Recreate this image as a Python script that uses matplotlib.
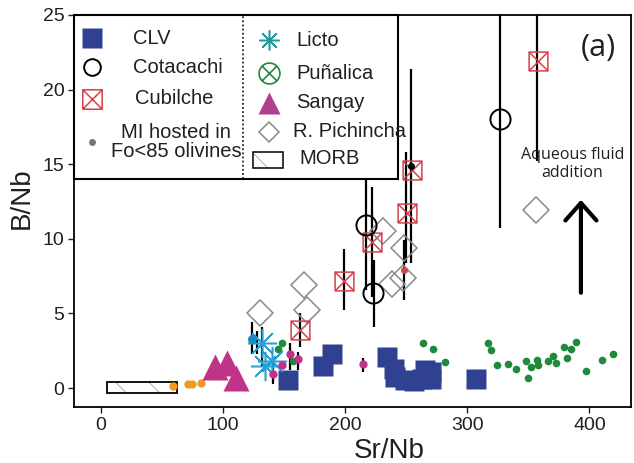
import numpy as np
import matplotlib
matplotlib.use("Agg")
import matplotlib.pyplot as plt
from matplotlib.path import Path
from matplotlib.patches import Rectangle

plt.rcParams['font.family'] = ['Liberation Sans', 'DejaVu Sans']
plt.rcParams['hatch.linewidth'] = 0.6

# ---- data ----
clv_x = [153, 182, 189, 234, 240, 241, 249, 256, 263, 265, 270, 270, 307]
clv_y = [0.55, 1.5, 2.3, 2.1, 1.3, 0.75, 0.55, 0.5, 0.6, 1.2, 1.1, 0.6, 0.6]

cota_x = [217, 223, 327]
cota_y = [10.9, 6.4, 18.0]

cubi_x = [163, 199, 222, 251, 255, 358]
cubi_y = [3.9, 7.2, 9.8, 11.7, 14.6, 21.9]

pich_x = [130, 166, 169, 231, 238, 247, 248, 356]
pich_y = [5.0, 6.9, 5.2, 10.5, 7.0, 7.4, 9.4, 11.95]

licto_x = [132, 134, 140]
licto_y = [3.0, 1.5, 1.8]

sangay_x = [93.5, 103, 111]
sangay_y = [1.4, 1.7, 0.67]

orange_x = [59, 71, 75, 82, 110]
orange_y = [0.15, 0.3, 0.3, 0.35, 0.5]

teal_x = [124]
teal_y = [3.3]

green_x = [148, 145, 157, 264, 272, 282, 317, 319, 324, 333, 340, 348, 350, 352,
           357, 358, 366, 370, 373, 379, 382, 385, 389, 397, 410, 419]
green_y = [3.0, 2.6, 1.8, 3.0, 2.6, 1.74, 3.0, 2.55, 1.55, 1.6, 1.27, 1.8, 0.67, 1.4,
           1.88, 1.55, 1.8, 2.15, 1.68, 2.75, 2.0, 2.6, 3.1, 1.14, 1.88, 2.26]

mag_x = [155, 161, 148, 141, 215]
mag_y = [2.3, 1.95, 1.55, 0.95, 1.6]

red_x, red_y = [248], [7.9]
black_x, black_y = [254], [14.9]

# vertical error bars: x, low, high
err_x = [327, 357, 217, 222, 224, 199, 250, 254, 248, 163, 124, 128, 132, 141, 155, 161, 215]
err_lo = [10.7, 15.2, 6.6, 6.1, 4.1, 5.2, 8.4, 8.4, 5.9, 2.75, 2.3, 2.3, 1.4, 0.3, 1.2, 1.2, 1.1]
err_hi = [26.0, 26.0, 15.1, 13.5, 8.6, 9.3, 15.8, 21.4, 9.9, 5.0, 4.4, 3.8, 4.1, 2.1, 3.0, 2.4, 2.0]

morb_x = (5, 62)
morb_y = (-0.3, 0.4)

# ---- colours ----
c_clv = '#2f4190'
c_cubi = '#d2434a'
c_licto = '#2c9fd2'
c_pun = '#1f8a3c'
c_sang = '#bf3389'
c_pich = '#8a8a8a'
c_orange = '#f29a1f'
c_teal = '#1a8cc4'
c_text = '#231f20'

# custom markers
M, L = Path.MOVETO, Path.LINETO
box_x = Path([(-1, -1), (1, -1), (1, 1), (-1, 1), (-1, -1), (-1, -1), (1, 1), (-1, 1), (1, -1)],
             [M, L, L, L, L, M, L, M, L])
d = 0.7071
circ_x = Path.make_compound_path(Path.unit_circle(),
                                 Path([(-d, -d), (d, d)], [M, L]),
                                 Path([(-d, d), (d, -d)], [M, L]))
aster = (8, 2, 0)


def hatched_box(ax, xy, w, h, lw, **kw):
    # grey sparse hatch underneath, black outline on top
    ax.add_patch(Rectangle(xy, w, h, facecolor='white', edgecolor='#a0a0a0', lw=0,
                           hatch='\\', **kw))
    kw['zorder'] = kw.get('zorder', 2) + 0.1
    ax.add_patch(Rectangle(xy, w, h, facecolor='none', edgecolor='black', lw=lw, **kw))


fig = plt.figure(figsize=(6.34, 4.63), dpi=100)
ax = fig.add_axes([74 / 634, 1 - 407 / 463, 557 / 634, 392 / 463])

ax.set_xlim(-22, 434)
ax.set_ylim(-1.27, 25)

ax.vlines(err_x, err_lo, err_hi, colors='black', lw=1.6, zorder=2)

hatched_box(ax, (morb_x[0], morb_y[0]), morb_x[1] - morb_x[0], morb_y[1] - morb_y[0],
            1.3, zorder=2)

ax.plot(green_x, green_y, 'o', ms=5.5, color=c_pun, mec='none', zorder=3)
ax.plot(orange_x, orange_y, 'o', ms=6, color=c_orange, mec='none', zorder=3)
ax.plot(sangay_x, sangay_y, '^', ms=19, color=c_sang, mec='none', zorder=3)
ax.plot(clv_x, clv_y, 's', ms=14, color=c_clv, mec='none', zorder=3)
ax.plot(pich_x, pich_y, 'D', ms=13.5, mfc='none', mec=c_pich, mew=1.1, zorder=4)
ax.plot(cubi_x, cubi_y, ls='none', marker=box_x, ms=13.5, mfc='none', mec=c_cubi, mew=1.1, zorder=4)
ax.plot(cota_x, cota_y, 'o', ms=14.5, mfc='none', mec='black', mew=1.4, zorder=4)
ax.plot(licto_x, licto_y, ls='none', marker=aster, ms=21, mec=c_licto, mew=1.1, zorder=4)
ax.plot(teal_x, teal_y, 'o', ms=6.5, color=c_teal, mec='none', zorder=5)
ax.plot(mag_x, mag_y, 'o', ms=6, color=c_sang, mec='none', zorder=5)
ax.plot(red_x, red_y, 'o', ms=5, color=c_cubi, mec='none', zorder=5)
ax.plot(black_x, black_y, 'o', ms=5, color='black', mec='none', zorder=5)

# arrow + annotations
ax.annotate('', xy=(393, 12.8), xytext=(393, 6.2),
            arrowprops=dict(arrowstyle='->, head_length=0.9, head_width=0.8',
                            mutation_scale=14, lw=3, color='black'))
ax.text(386, 15.0, 'Aqueous fluid\naddition', ha='center', va='center', fontsize=11.5,
        family=['Open Sans', 'DejaVu Sans'], color=c_text, linespacing=1.2)
ax.text(407, 22.8, '(a)', ha='center', va='center', fontsize=22,
        family=['Open Sans', 'DejaVu Sans'], color=c_text)

# axes styling
for s in ax.spines.values():
    s.set_linewidth(1.3)
ax.set_xticks([0, 100, 200, 300, 400])
ax.set_yticks([0, 5, 10, 15, 20, 25])
ax.tick_params(direction='out', length=4, width=1, labelsize=14, colors=c_text, pad=3)
ax.set_xlabel('Sr/Nb', fontsize=20, color=c_text)
ax.set_ylabel('B/Nb', fontsize=20, color=c_text)
ax.xaxis.set_label_coords(0.566, -0.112)
ax.xaxis.label.set_va('center')
ax.yaxis.set_label_coords(-0.093, 0.533)
ax.yaxis.label.set_va('center')

# ---- hand-built legend box ----
T = ax.transAxes
ax.add_patch(Rectangle((0, 0.582), 0.582, 0.418, transform=T, facecolor='white',
                       edgecolor='black', lw=1.5, zorder=6, clip_on=False))
ax.plot([0.303, 0.303], [0.582, 1.0], transform=T, color='black', lw=1.1, ls=(0, (1.2, 1.5)),
        zorder=7, clip_on=False)

lx, tx = 0.0323, 0.106
rx, rtx = 0.350, 0.399
kw = dict(transform=T, zorder=7, clip_on=False, ls='none')
tk = dict(transform=T, zorder=7, fontsize=14.5, color=c_text, va='center')

ax.plot([lx], [0.941], marker='s', ms=14.5, color=c_clv, mec='none', **kw)
ax.text(tx, 0.941, 'CLV', **tk)
ax.plot([lx], [0.867], marker='o', ms=12, mfc='none', mec='black', mew=1.4, **kw)
ax.text(tx, 0.867, 'Cotacachi', **tk)
ax.plot([lx], [0.786], marker=box_x, ms=14, mfc='none', mec=c_cubi, mew=1.1, **kw)
ax.text(tx + 0.004, 0.786, 'Cubilche', **tk)
ax.plot([lx], [0.676], marker='o', ms=5, color='#777777', mec='none', **kw)
ax.text(0.183, 0.676, 'MI hosted in\nFo<85 olivines', ha='center', linespacing=1.05, **tk)

ax.plot([rx], [0.936], marker=aster, ms=14.5, mec='#22999a', mew=1.1, **kw)
ax.text(rtx, 0.936, 'Licto', **tk)
ax.plot([rx], [0.852], marker=circ_x, ms=15, mfc='none', mec=c_pun, mew=1.2, **kw)
ax.text(rtx, 0.852, 'Puñalica', **tk)
ax.plot([rx], [0.776], marker='^', ms=16, color='#b13f8f', mec='none', **kw)
ax.text(rtx, 0.776, 'Sangay', **tk)
ax.plot([rx], [0.702], marker='D', ms=10.5, mfc='none', mec=c_pich, mew=1.1, **kw)
ax.text(rtx - 0.006, 0.702, 'R. Pichincha', **tk)
hatched_box(ax, (0.321, 0.610), 0.054, 0.041, 1.1, transform=T, zorder=7, clip_on=False)
ax.text(rtx + 0.005, 0.633, 'MORB', **tk)

fig.savefig('out.png', dpi=100)
